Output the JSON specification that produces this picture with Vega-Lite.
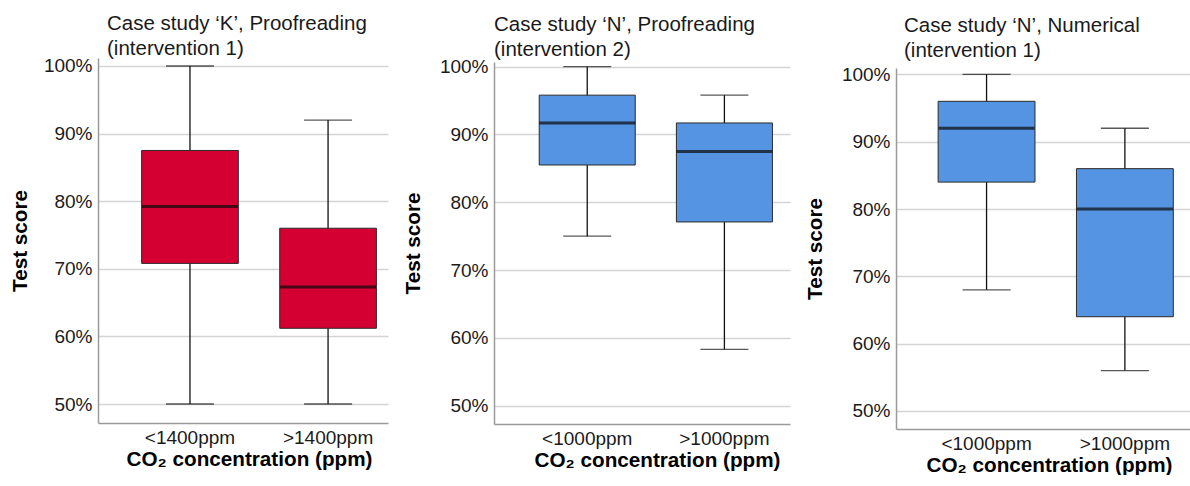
{
  "$schema": "https://vega.github.io/schema/vega-lite/v6.json",
  "padding": {"left": 9, "top": 14, "right": 0, "bottom": 0},
  "background": "white",
  "spacing": 14,
  "config": {
    "view": {"stroke": null},
    "font": "Liberation Sans",
    "title": {"anchor": "start", "frame": "group", "fontSize": 20.5, "fontWeight": "normal", "font": "Liberation Sans", "color": "#1a1a1a", "lineHeight": 25, "offset": -3},
    "axis": {"labelFont": "Liberation Sans", "titleFont": "Liberation Sans", "labelColor": "#1a1a1a", "titleColor": "#000000", "labelFontSize": 19, "titleFontSize": 20.7, "titleFontWeight": "bold", "ticks": false, "domainColor": "#9a9a9a", "domainWidth": 1.5, "gridColor": "#d4d4d4", "gridWidth": 1.5}
  },
  "hconcat": [
    {
      "width": 290,
      "height": 365,
      "title": {"text": ["Case study ‘K’, Proofreading", "(intervention 1)"], "dx": 9},
      "data": {"values": [
        {"group": "<1400ppm", "min": 0.50, "q1": 0.708, "median": 0.792, "q3": 0.875, "max": 1.00},
        {"group": ">1400ppm", "min": 0.50, "q1": 0.612, "median": 0.673, "q3": 0.76, "max": 0.92}
      ]},
      "encoding": {
        "x": {"field": "group", "type": "nominal", "sort": null, "scale": {"paddingInner": 0.3, "paddingOuter": 0.2, "align": 0.79},
              "axis": {"labelAngle": 0, "labelPadding": 5, "title": "CO₂ concentration (ppm)", "titlePadding": 2, "titleX": 151, "grid": false}}
      },
      "layer": [
        {"mark": {"type": "rule", "color": "#111", "strokeWidth": 1.3},
         "encoding": {"y": {"field": "min", "type": "quantitative", "scale": {"domain": [0.4719, 1.0118], "nice": false, "zero": false},
           "axis": {"values": [0.5, 0.6, 0.7, 0.8, 0.9, 1.0], "format": ".0%", "title": "Test score", "titlePadding": 13, "labelPadding": 6, "grid": true}},
           "y2": {"field": "max"}}},
        {"mark": {"type": "bar", "color": "#d50032", "stroke": "#2a2a2a", "strokeWidth": 1, "width": {"band": 1}},
         "encoding": {"y": {"field": "q1", "type": "quantitative"}, "y2": {"field": "q3"}}},
        {"mark": {"type": "tick", "color": "#111", "size": 48, "thickness": 1.3},
         "encoding": {"y": {"field": "min", "type": "quantitative"}}},
        {"mark": {"type": "tick", "color": "#111", "size": 48, "thickness": 1.3},
         "encoding": {"y": {"field": "max", "type": "quantitative"}}},
        {"mark": {"type": "tick", "color": "#0a0a0a", "size": 96, "thickness": 3},
         "encoding": {"y": {"field": "median", "type": "quantitative"}}}
      ]
    },
    {
      "width": 296,
      "height": 366,
      "title": {"text": ["Case study ‘N’, Proofreading", "(intervention 2)"], "dx": 0},
      "data": {"values": [
        {"group": "<1000ppm", "min": 0.75, "q1": 0.855, "median": 0.917, "q3": 0.958, "max": 1.00},
        {"group": ">1000ppm", "min": 0.583, "q1": 0.771, "median": 0.875, "q3": 0.917, "max": 0.958}
      ]},
      "encoding": {
        "x": {"field": "group", "type": "nominal", "sort": null, "scale": {"paddingInner": 0.3, "paddingOuter": 0.229, "align": 0.72},
              "axis": {"labelAngle": 0, "labelPadding": 5, "title": "CO₂ concentration (ppm)", "titlePadding": 2, "titleX": 163, "grid": false}}
      },
      "layer": [
        {"mark": {"type": "rule", "color": "#111", "strokeWidth": 1.3},
         "encoding": {"y": {"field": "min", "type": "quantitative", "scale": {"domain": [0.473, 1.0069], "range": [366, 4], "nice": false, "zero": false},
           "axis": {"values": [0.5, 0.6, 0.7, 0.8, 0.9, 1.0], "format": ".0%", "title": "Test score", "titlePadding": 16, "labelPadding": 6, "grid": true}},
           "y2": {"field": "max"}}},
        {"mark": {"type": "bar", "color": "#5594e2", "stroke": "#2a2a2a", "strokeWidth": 1, "width": {"band": 1}},
         "encoding": {"y": {"field": "q1", "type": "quantitative"}, "y2": {"field": "q3"}}},
        {"mark": {"type": "tick", "color": "#111", "size": 48, "thickness": 1.3},
         "encoding": {"y": {"field": "min", "type": "quantitative"}}},
        {"mark": {"type": "tick", "color": "#111", "size": 48, "thickness": 1.3},
         "encoding": {"y": {"field": "max", "type": "quantitative"}}},
        {"mark": {"type": "tick", "color": "#0a0a0a", "size": 96, "thickness": 3},
         "encoding": {"y": {"field": "median", "type": "quantitative"}}}
      ]
    },
    {
      "width": 301,
      "height": 371,
      "title": {"text": ["Case study ‘N’, Numerical", "(intervention 1)"], "dx": 8},
      "data": {"values": [
        {"group": "<1000ppm", "min": 0.68, "q1": 0.84, "median": 0.92, "q3": 0.96, "max": 1.00},
        {"group": ">1000ppm", "min": 0.56, "q1": 0.64, "median": 0.80, "q3": 0.86, "max": 0.92}
      ]},
      "encoding": {
        "x": {"field": "group", "type": "nominal", "sort": null, "scale": {"paddingInner": 0.3, "paddingOuter": 0.238, "align": 0.64},
              "axis": {"labelAngle": 0, "labelPadding": 5, "title": "CO₂ concentration (ppm)", "titlePadding": 2, "titleX": 153, "grid": false}}
      },
      "layer": [
        {"mark": {"type": "rule", "color": "#111", "strokeWidth": 1.3},
         "encoding": {"y": {"field": "min", "type": "quantitative", "scale": {"domain": [0.4732, 1.0095], "range": [371, 10], "nice": false, "zero": false},
           "axis": {"values": [0.5, 0.6, 0.7, 0.8, 0.9, 1.0], "format": ".0%", "title": "Test score", "titlePadding": 16, "labelPadding": 6, "grid": true}},
           "y2": {"field": "max"}}},
        {"mark": {"type": "bar", "color": "#5594e2", "stroke": "#2a2a2a", "strokeWidth": 1, "width": {"band": 1}},
         "encoding": {"y": {"field": "q1", "type": "quantitative"}, "y2": {"field": "q3"}}},
        {"mark": {"type": "tick", "color": "#111", "size": 48, "thickness": 1.3},
         "encoding": {"y": {"field": "min", "type": "quantitative"}}},
        {"mark": {"type": "tick", "color": "#111", "size": 48, "thickness": 1.3},
         "encoding": {"y": {"field": "max", "type": "quantitative"}}},
        {"mark": {"type": "tick", "color": "#0a0a0a", "size": 96, "thickness": 3},
         "encoding": {"y": {"field": "median", "type": "quantitative"}}}
      ]
    }
  ]
}
